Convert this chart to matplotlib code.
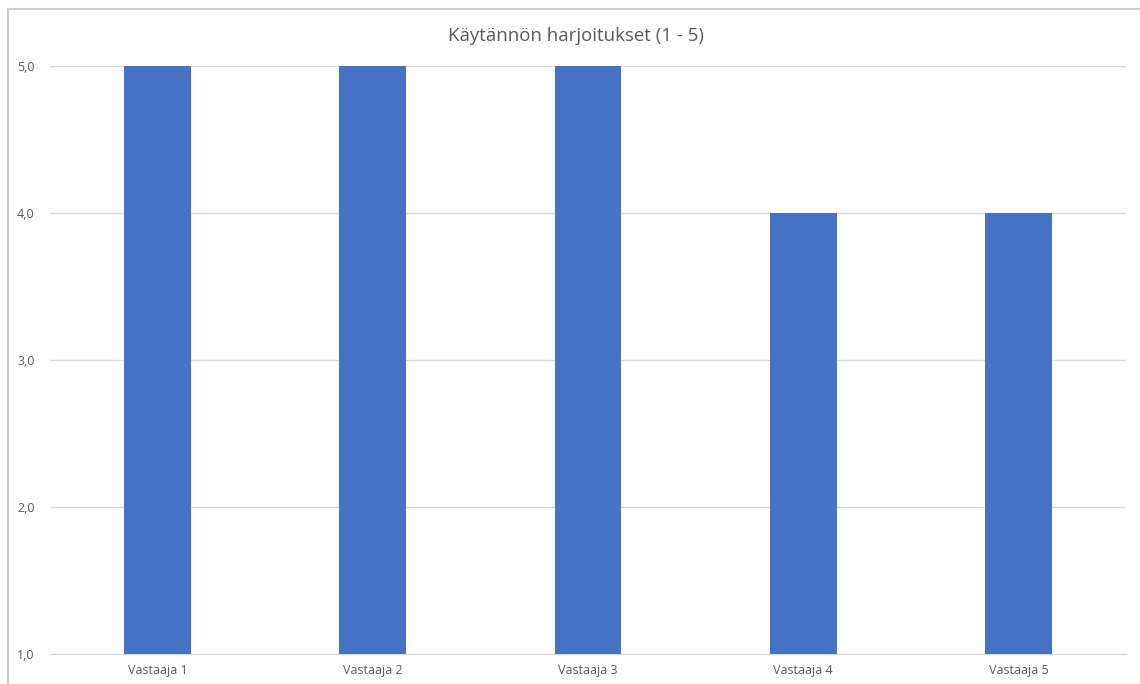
import matplotlib
matplotlib.use('Agg')
import matplotlib.pyplot as plt
from matplotlib.patches import Rectangle

# data
categories = ['Vastaaja 1', 'Vastaaja 2', 'Vastaaja 3', 'Vastaaja 4', 'Vastaaja 5']
values = [5, 5, 5, 4, 4]
yticks = [1, 2, 3, 4, 5]
title = 'Käytännön harjoitukset (1 - 5)'

plt.rcParams['font.family'] = ['Open Sans', 'DejaVu Sans']

fig = plt.figure(figsize=(11.4, 6.84), dpi=100)
ax = fig.add_axes([50/1140, 1 - 654/684, (1126 - 50)/1140, (654 - 66)/684])

# outer chart frame (light gray, cut off at right/bottom)
fig.patches.append(Rectangle((8/1140, -0.1), 1.2, 1 - 8.5/684 + 0.1,
                             transform=fig.transFigure, fill=False,
                             edgecolor='#cfcfcf', linewidth=1.5, zorder=0))

x = range(len(categories))
ax.bar(x, values, width=0.31, color='#4472C4', zorder=3)

ax.set_xlim(-0.5, len(categories) - 0.5)
ax.set_ylim(1, 5)
ax.set_yticks(yticks)
ax.set_yticklabels([('%.1f' % v).replace('.', ',') for v in yticks])
ax.set_xticks(list(x))
ax.set_xticklabels(categories)
ax.tick_params(axis='both', length=0, labelsize=9, colors='#595959')
ax.tick_params(axis='y', pad=11)
ax.tick_params(axis='x', pad=7)

ax.grid(axis='y', color='#d9d9d9', linewidth=1)
ax.set_axisbelow(True)
for s in ['top', 'right', 'left']:
    ax.spines[s].set_visible(False)
ax.spines['bottom'].set_color('#d9d9d9')
ax.spines['bottom'].set_zorder(4)

fig.text(576/1140, 1 - 36/684, title, ha='center', va='center',
         fontsize=13.4, color='#595959')

fig.savefig('out.png', dpi=100)
